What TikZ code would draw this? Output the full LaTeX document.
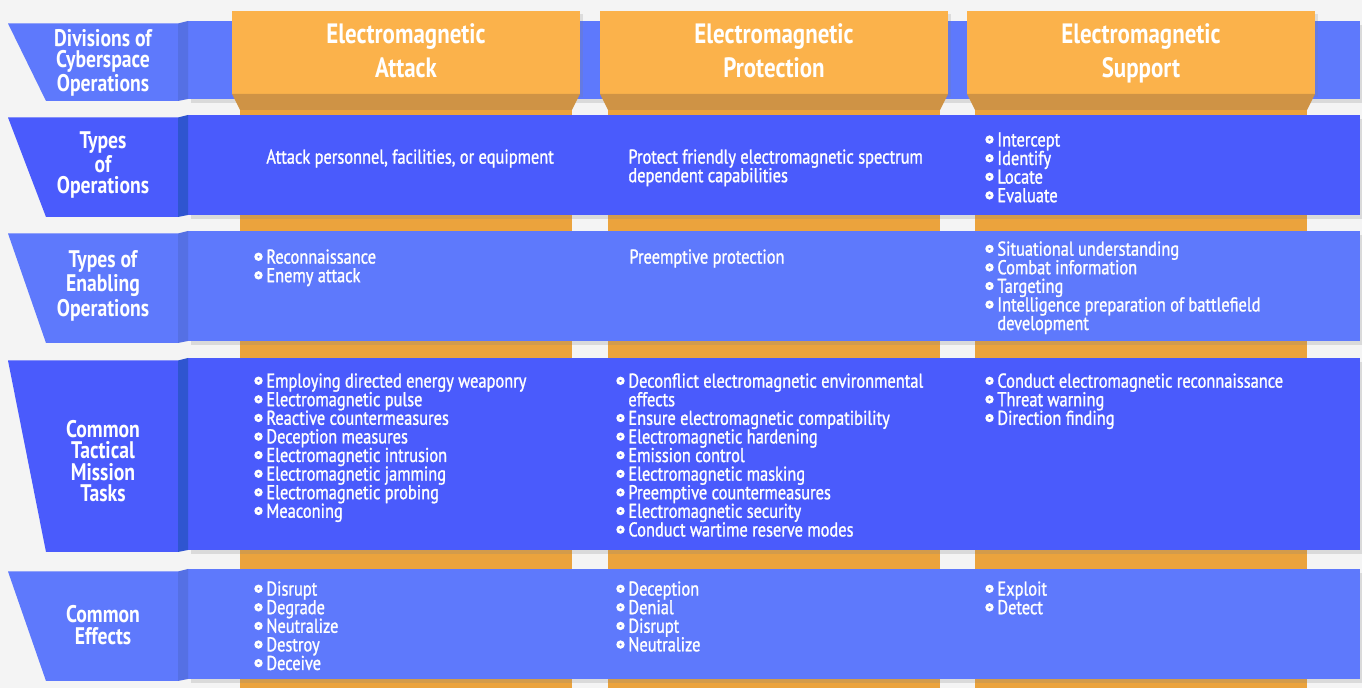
\documentclass[tikz,border=0pt]{standalone}
\usepackage{fontspec}
\setmainfont{PT Sans}[FakeStretch=0.82]
\newfontfamily\medfont{PT Sans}[FakeStretch=0.82, FakeBold=1.2]
\usetikzlibrary{shadows}

\definecolor{bgray}{HTML}{F4F4F4}
\definecolor{bluelt}{HTML}{5E79FC}
\definecolor{bluedk}{HTML}{4A5BFC}
\definecolor{sidelt}{HTML}{5570E4}
\definecolor{sidedk}{HTML}{2F55D0}
\definecolor{orhead}{HTML}{FBB24B}
\definecolor{orfold}{HTML}{CF9345}
\definecolor{orcol}{HTML}{EBA33D}

\tikzset{
  band/.style={fill=#1, drop shadow={shadow xshift=1.5pt, shadow yshift=-2pt, opacity=0.22}},
  rowlabel/.style={text=white, font=\bfseries\fontsize{12}{10.75}\selectfont, align=center, inner sep=0pt},
  colhead/.style={text=white, font=\bfseries\fontsize{14}{17.2}\selectfont, align=center, inner sep=0pt, anchor=north},
  bodytext/.style={text=white, font=\medfont\fontsize{10}{9.3}\selectfont, align=left, anchor=north west, inner sep=0pt}
}
\newcommand{\bul}{\makebox[6pt][l]{\tikz[baseline=-3.4pt]\draw[white,line width=1.4pt] (0,0) circle (1.35pt);}}
\newcommand{\ind}{\hspace*{6pt}}

\begin{document}
\begin{tikzpicture}[x=0.5pt,y=-0.5pt]
  \fill[bgray] (0,0) rectangle (1362,688); %background
  \useasboundingbox (0,0) rectangle (1362,688);

  % orange columns behind the rows
  \foreach \cx in {232,600,967}
    \fill[orcol] (\cx+8,100) rectangle (\cx+340,688);

  % rows: band, left label, side face
  \foreach \ya/\yb/\c/\s in {21/99/bluelt/sidelt,115/215/bluedk/sidedk,231/341/bluelt/sidelt,358/550/bluedk/sidedk,569/679/bluelt/sidelt}{
    \fill[band=\c] (188,\ya) rectangle (1360,\yb);
    \fill[\c] (8,\ya+2.5) -- (178,\ya+2.5) -- (178,\yb+2) -- (46,\yb+2) -- cycle;
    \fill[\s] (178,\ya+2.5) -- (188,\ya) -- (188,\yb) -- (178,\yb+2) -- cycle;
  }

  % column headers
  \foreach \cx in {232,600,967}{
    \fill[orhead, drop shadow={shadow xshift=1.5pt, shadow yshift=-1.5pt, opacity=0.2}] (\cx,11) rectangle (\cx+348,94);
    \fill[orfold] (\cx,94) -- (\cx+348,94) -- (\cx+340,110) -- (\cx+8,110) -- cycle;
  }
  \node[colhead] (hAttack) at (406,23) {Electromagnetic\\Attack};
  \node[colhead] (hProtect) at (774,23) {Electromagnetic\\Protection};
  \node[colhead] (hSupport) at (1141,23) {Electromagnetic\\Support};

  % row labels
  \node[rowlabel] (lDiv) at (103,63) {Divisions of\\Cyberspace\\Operations};
  \node[rowlabel] (lTypes) at (103,165) {Types\\of\\Operations};
  \node[rowlabel] (lEnab) at (103,286) {Types of\\Enabling\\Operations};
  \node[rowlabel] (lTasks) at (103,461) {Common\\Tactical\\Mission\\Tasks};
  \node[rowlabel] (lEff) at (103,625) {Common\\Effects};

  % types of operations
  \node[bodytext] (tAttack) at (266,149) {Attack personnel, facilities, or equipment};
  \node[bodytext] (tProtect) at (628,149) {Protect friendly electromagnetic spectrum\\dependent capabilities};
  \node[bodytext] (tSupport) at (985,132) {\bul Intercept\\\bul Identify\\\bul Locate\\\bul Evaluate};

  % enabling operations
  \node[bodytext] (eAttack) at (254,249) {\bul Reconnaissance\\\bul Enemy attack};
  \node[bodytext] (eProtect) at (629,249) {Preemptive protection};
  \node[bodytext] (eSupport) at (985,241) {\bul Situational understanding\\\bul Combat information\\\bul Targeting\\\bul Intelligence preparation of battlefield\\\ind development};

  % mission tasks
  \node[bodytext] (mAttack) at (254,373) {\bul Employing directed energy weaponry\\\bul Electromagnetic pulse\\\bul Reactive countermeasures\\\bul Deception measures\\\bul Electromagnetic intrusion\\\bul Electromagnetic jamming\\\bul Electromagnetic probing\\\bul Meaconing};
  \node[bodytext] (mProtect) at (616,373) {\bul Deconflict electromagnetic environmental\\\ind effects\\\bul Ensure electromagnetic compatibility\\\bul Electromagnetic hardening\\\bul Emission control\\\bul Electromagnetic masking\\\bul Preemptive countermeasures\\\bul Electromagnetic security\\\bul Conduct wartime reserve modes};
  \node[bodytext] (mSupport) at (985,373) {\bul Conduct electromagnetic reconnaissance\\\bul Threat warning\\\bul Direction finding};

  % effects
  \node[bodytext] (fAttack) at (254,581) {\bul Disrupt\\\bul Degrade\\\bul Neutralize\\\bul Destroy\\\bul Deceive};
  \node[bodytext] (fProtect) at (616,581) {\bul Deception\\\bul Denial\\\bul Disrupt\\\bul Neutralize};
  \node[bodytext] (fSupport) at (985,581) {\bul Exploit\\\bul Detect};
\end{tikzpicture}
\end{document}
